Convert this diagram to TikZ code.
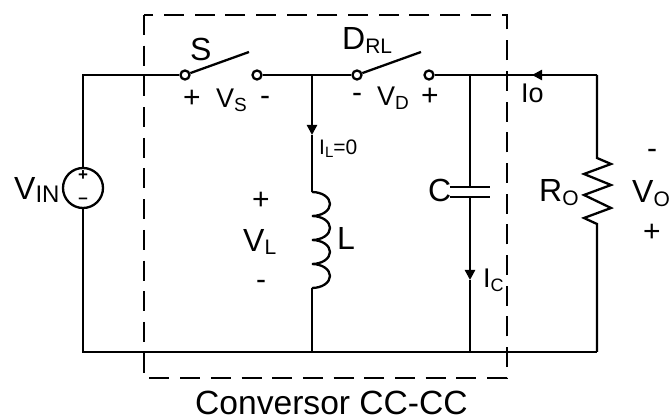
\documentclass[tikz,border=0pt]{standalone}
\usepackage{fontspec}
\setmainfont{Liberation Sans}
\usetikzlibrary{arrows.meta}
\newcommand{\fsz}[1]{\fontsize{#1}{#1}\selectfont}
\newcommand{\lowsub}[3]{\raisebox{-#1pt}{\fsz{#2}#3}}
\tikzset{
  wire/.style={line width=2.3pt},
  boxline/.style={line width=2.3pt,dash pattern=on 20pt off 10.7pt},
  terminal/.style={circle,draw,line width=2.3pt,fill=white,inner sep=0pt,minimum size=9pt},
  source/.style={circle,draw,line width=2.3pt,inner sep=0pt,minimum size=40pt},
  bigtxt/.style={inner sep=0pt,anchor=base west,font=\fsz{32}},
  midtxt/.style={inner sep=0pt,anchor=base west,font=\fsz{27}},
  smalltxt/.style={inner sep=0pt,anchor=base west,font=\fsz{21}},
  sign/.style={inner sep=0pt,font=\fsz{30}},
  tinysign/.style={inner sep=0pt,font=\bfseries\fsz{17}},
  headtip/.style={-{Triangle[length=10pt,width=10pt]}}
}
\begin{document}
\begin{tikzpicture}[x=1pt,y=1pt]
\useasboundingbox (0,0) rectangle (669,-419);
\draw [boxline] (144,-15) rectangle (507,-378);
\node (vin) [source] at (83,-188) {};
\node (sa) [terminal] at (185,-75) {};
\node (sb) [terminal] at (257,-75) {};
\node (da) [terminal] at (357,-75) {};
\node (db) [terminal] at (429,-75) {};
\coordinate (sblade) at (249,-52);
\coordinate (dblade) at (421,-52);
\coordinate (ltap) at (312,-75);
\coordinate (ctap) at (470,-75);
\coordinate (rtap) at (597,-75);
\coordinate (lbot) at (312,-352);
\coordinate (cbot) at (470,-352);
\coordinate (rbot) at (597,-352);
\coordinate (ltop) at (312,-192);
\coordinate (lend) at (312,-288);
\coordinate (ca) at (470,-187);
\coordinate (cb) at (470,-197);
\coordinate (rtop) at (597,-158);
\coordinate (rend) at (597,-224);
\coordinate (ilhead) at (312,-135);
\coordinate (ichead) at (470,-280);
\coordinate (iohead) at (532,-75);
\draw [wire] (vin.north) |- (sa);
\draw [wire] (sa) -- (sblade);
\draw [wire] (sb) -- (da);
\draw [wire] (da) -- (dblade);
\draw [wire] (db) -- (rtap);
\draw [wire] (vin.south) |- (rbot);
\draw [wire,headtip] (ltap) -- (ilhead);
\draw [wire] (ilhead) -- (ltop);
\draw [wire] (ltop) arc (90:-90:18 and 12) arc (90:-90:18 and 12) arc (90:-90:18 and 12) arc (90:-90:18 and 12);
\draw [wire] (lend) -- (lbot);
\draw [wire] (ctap) -- (ca);
\draw [wire] (450,-187) -- (490,-187);
\draw [wire] (450,-197) -- (490,-197);
\draw [wire,headtip] (cb) -- (ichead);
\draw [wire] (ichead) -- (cbot);
\draw [wire,headtip] (rtap) -- (iohead);
\draw [wire] (rtap) -- (rtop) -- (611,-164) -- (584,-174) -- (611,-185) -- (584,-195) -- (611,-208) -- (584,-218) -- (rend) -- (rbot);
\node (vinlab) [bigtxt] at (14,-200) {V\lowsub{3}{24}{IN}};
\node (vinp) [tinysign] at (83,-176) {+};
\node (vinm) [tinysign] at (83,-201) {–};
\node (slab) [bigtxt] at (190,-61) {S};
\node (drllab) [bigtxt] at (342,-50) {D\lowsub{4}{21}{RL}};
\node (sp) [sign] at (192,-99) {+};
\node (vslab) [midtxt] at (216,-108) {V\lowsub{4}{19}{S}};
\node (sm) [sign] at (265,-101) {-};
\node (dm) [sign] at (357,-98) {-};
\node (vdlab) [midtxt] at (377,-106) {V\lowsub{4}{19}{D}};
\node (dp) [sign] at (430,-97) {+};
\node (iolab) [midtxt] at (521,-103) {Io};
\node (illab) [smalltxt] at (319,-155) {I\lowsub{3}{15}{L}=0};
\node (lp) [sign] at (261,-201) {+};
\node (vllab) [bigtxt] at (243,-252) {V\lowsub{3}{21}{L}};
\node (lm) [sign] at (261,-285) {-};
\node (llab) [bigtxt] at (337,-250) {L};
\node (clab) [bigtxt] at (428,-202) {C};
\node (iclab) [midtxt] at (483,-288) {I\lowsub{4}{18}{C}};
\node (rolab) [bigtxt] at (539,-202) {R\lowsub{4}{21}{O}};
\node (vom) [sign] at (652,-154) {-};
\node (volab) [bigtxt] at (632,-203) {V\lowsub{4}{21}{O}};
\node (vop) [sign] at (652,-233) {+};
\node (boxlab) [inner sep=0pt,anchor=base west,font=\fsz{33.6}] at (195,-414) {Conversor CC-CC};
\end{tikzpicture}
\end{document}
